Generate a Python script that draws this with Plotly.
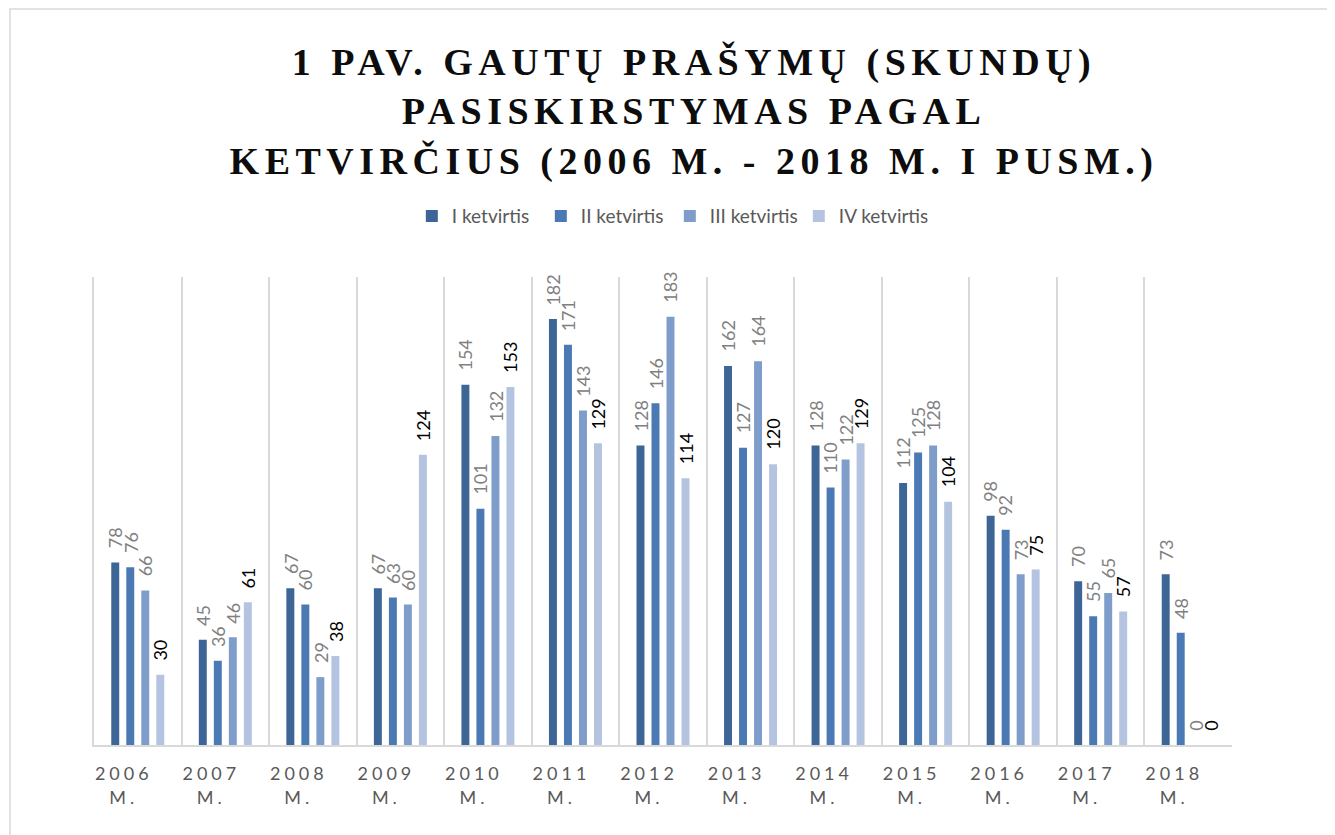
import plotly.graph_objects as go

years = ["2006", "2007", "2008", "2009", "2010", "2011", "2012",
         "2013", "2014", "2015", "2016", "2017", "2018"]
series_names = ["I ketvirtis", "II ketvirtis", "III ketvirtis", "IV ketvirtis"]
q1 = [78, 45, 67, 67, 154, 182, 128, 162, 128, 112, 98, 70, 73]
q2 = [76, 36, 60, 63, 101, 171, 146, 127, 110, 125, 92, 55, 48]
q3 = [66, 46, 29, 60, 132, 143, 183, 164, 122, 128, 73, 65, 0]
q4 = [30, 61, 38, 124, 153, 129, 114, 120, 129, 104, 75, 57, 0]

colors = ["#3D6596", "#4A79B4", "#7F9DCA", "#B4C4E0"]
label_colors = ["#808080", "#808080", "#808080", "#000000"]

categories = [y + " M." for y in years]
tick_text = ['<span style="letter-spacing:4px">%s</span><br><span style="letter-spacing:4px">M.</span>' % y
             for y in years]

fig = go.Figure()
all_series = [q1, q2, q3, q4]
for name, vals, col in zip(series_names, all_series, colors):
    fig.add_trace(go.Bar(x=categories, y=vals, name=name, marker_color=col,
                         marker_line_width=0))

annotations = []
for i, (vals, lc) in enumerate(zip(all_series, label_colors)):
    for cat, v in zip(categories, vals):
        annotations.append(dict(
            x=cat, y=v, xref="x", yref="y", text=str(v), showarrow=False,
            textangle=-90, xanchor="center", yanchor="bottom",
            xshift=(i - 1.5) * 15, yshift=12,
            font=dict(family="Lato", size=18, color=lc)))

W, H = 1327, 827
fig.update_layout(
    width=W, height=H,
    paper_bgcolor="white", plot_bgcolor="white",
    margin=dict(l=86, r=103, t=269, b=90),
    barmode="group", bargap=0.314, bargroupgap=0.47,
    title=dict(
        text='<span style="letter-spacing:5.5px">1 PAV. GAUTŲ PRAŠYMŲ (SKUNDŲ)</span><br>'
             '<span style="letter-spacing:5.5px">PASISKIRSTYMAS PAGAL</span><br>'
             '<span style="letter-spacing:5.5px">KETVIRČIUS (2006 M. - 2018 M. I PUSM.)</span>',
        x=0.517, xanchor="center", y=1 - 67 / H, yanchor="top",
        font=dict(family="Liberation Serif", size=38, color="#0d0d0d", weight="bold")),
    legend=dict(orientation="h", x=0.506, xanchor="center", y=1.13, yanchor="middle",
                font=dict(family="Lato", size=19, color="#595959"),
                itemwidth=30, entrywidth=84, entrywidthmode="pixels"),
    annotations=annotations,
    shapes=[dict(type="rect", xref="paper", yref="paper",
                 x0=-84 / 1138, x1=(1321 - 86) / 1138, y0=-0.25, y1=(737 - 1) / 468,
                 line=dict(color="#d9d9d9", width=1.5), fillcolor="rgba(0,0,0,0)",
                 layer="below")],
)
fig.update_xaxes(type="category", tickson="boundaries", showgrid=True,
                 gridcolor="#d9d9d9", gridwidth=1.5, ticks="", ticklen=0,
                 showline=True, linecolor="#d9d9d9", linewidth=1.5,
                 tickmode="array", tickvals=categories, ticktext=tick_text,
                 ticklabelshift=-14, ticklabelstandoff=12,
                 tickfont=dict(family="Lato", size=18, color="#595959"))
fig.update_yaxes(range=[0, 200], showgrid=False, showticklabels=False,
                 zeroline=False, showline=True, linecolor="#d9d9d9", linewidth=1.5)

fig.write_html("out.html")
